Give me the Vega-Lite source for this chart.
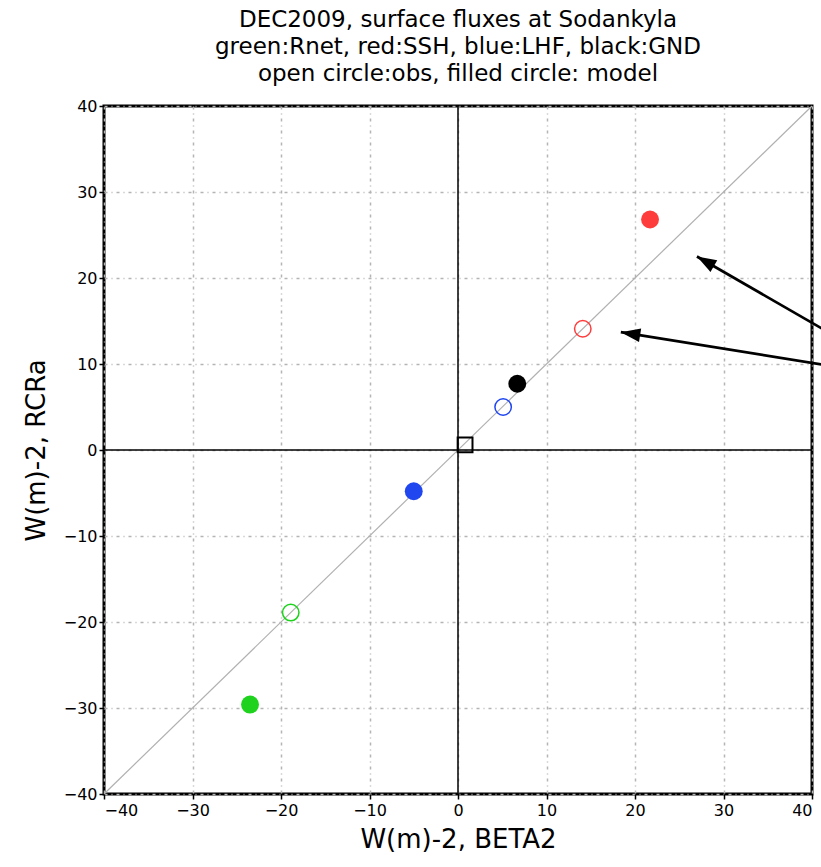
{
  "$schema": "https://vega.github.io/schema/vega-lite/v6.json",
  "width": 708,
  "height": 688,
  "autosize": {"type": "none"},
  "padding": {"left": 104, "top": 106, "right": 9, "bottom": 73},
  "background": "white",
  "config": {
    "view": {"stroke": "black", "strokeWidth": 3},
    "font": "DejaVu Sans"
  },
  "title": {
    "text": ["DEC2009, surface fluxes at Sodankyla", "green:Rnet, red:SSH, blue:LHF, black:GND", "open circle:obs, filled circle: model"],
    "font": "DejaVu Sans",
    "fontSize": 23,
    "fontWeight": "normal",
    "color": "black",
    "anchor": "middle",
    "lineHeight": 27,
    "offset": 12
  },
  "datasets": {
    "points": [
      {"variable": "Rnet", "type": "obs", "x": -18.9, "y": -18.9},
      {"variable": "Rnet", "type": "model", "x": -23.5, "y": -29.6},
      {"variable": "SSH", "type": "obs", "x": 14.1, "y": 14.1},
      {"variable": "SSH", "type": "model", "x": 21.7, "y": 26.8},
      {"variable": "LHF", "type": "obs", "x": 5.1, "y": 5.0},
      {"variable": "LHF", "type": "model", "x": -5.0, "y": -4.8},
      {"variable": "GND", "type": "obs", "x": 0.8, "y": 0.6},
      {"variable": "GND", "type": "model", "x": 6.7, "y": 7.7}
    ],
    "diag": [{"x": -40, "y": -40, "x2": 40, "y2": 40}],
    "zeroV": [{"x": 0, "y": -40, "y2": 40}],
    "zeroH": [{"y": 0, "x": -40, "x2": 40}],
    "arrows": [
      {"id": "a1", "x": 42, "y": 13.6, "x2": 27.0, "y2": 22.5},
      {"id": "a2", "x": 42, "y": 9.8, "x2": 18.4, "y2": 13.7}
    ]
  },
  "encoding": {
    "x": {
      "field": "x", "type": "quantitative",
      "scale": {"domain": [-40, 40], "nice": false, "zero": false},
      "axis": {
        "values": [-40, -30, -20, -10, 0, 10, 20, 30, 40],
        "title": "W(m)-2, BETA2",
        "titleFontSize": 26, "titleFontWeight": "normal", "titleColor": "black", "titlePadding": 8,
        "labelFontSize": 16, "labelColor": "black", "labelPadding": 3,
        "tickColor": "black", "tickSize": 5, "tickWidth": 1.5,
        "domain": false,
        "grid": true, "gridColor": "#b4b4b4", "gridDash": [3, 4, 1, 4], "gridWidth": 1.5
      }
    },
    "y": {
      "field": "y", "type": "quantitative",
      "scale": {"domain": [-40, 40], "nice": false, "zero": false},
      "axis": {
        "values": [-40, -30, -20, -10, 0, 10, 20, 30, 40],
        "title": "W(m)-2, RCRa",
        "titleFontSize": 26, "titleFontWeight": "normal", "titleColor": "black", "titlePadding": 14,
        "labelFontSize": 16, "labelColor": "black", "labelPadding": 2,
        "tickColor": "black", "tickSize": 5, "tickWidth": 1.5,
        "domain": false,
        "grid": true, "gridColor": "#b4b4b4", "gridDash": [3, 4, 1, 4], "gridWidth": 1.5
      }
    }
  },
  "layer": [
    {
      "data": {"name": "diag"},
      "mark": {"type": "rule", "color": "#b0b0b0", "strokeWidth": 1.2},
      "encoding": {"x2": {"field": "x2"}, "y2": {"field": "y2"}}
    },
    {
      "data": {"name": "zeroV"},
      "mark": {"type": "rule", "color": "black", "strokeWidth": 1.5},
      "encoding": {"y2": {"field": "y2"}}
    },
    {
      "data": {"name": "zeroH"},
      "mark": {"type": "rule", "color": "black", "strokeWidth": 1.5},
      "encoding": {"x2": {"field": "x2"}}
    },
    {
      "data": {"name": "points"},
      "transform": [{"filter": "datum.type === 'model'"}],
      "mark": {"type": "point", "shape": "circle", "filled": true, "size": 320, "opacity": 1},
      "encoding": {
        "color": {"field": "variable", "type": "nominal", "scale": {"domain": ["Rnet", "SSH", "LHF", "GND"], "range": ["#1ed21e", "#ff3c3c", "#2046f0", "#000000"]}, "legend": null}
      }
    },
    {
      "data": {"name": "points"},
      "transform": [{"filter": "datum.type === 'obs' && datum.variable !== 'GND'"}],
      "mark": {"type": "point", "shape": "circle", "filled": false, "size": 270, "strokeWidth": 1.5, "opacity": 1},
      "encoding": {
        "color": {"field": "variable", "type": "nominal", "scale": {"domain": ["Rnet", "SSH", "LHF", "GND"], "range": ["#1ed21e", "#ff3c3c", "#2046f0", "#000000"]}, "legend": null}
      }
    },
    {
      "data": {"name": "points"},
      "transform": [{"filter": "datum.type === 'obs' && datum.variable === 'GND'"}],
      "mark": {"type": "point", "shape": "square", "filled": false, "size": 220, "strokeWidth": 2, "opacity": 1, "color": "black"}
    },
    {
      "data": {"name": "arrows"},
      "mark": {"type": "rule", "color": "black", "strokeWidth": 2.7, "clip": false},
      "encoding": {"x2": {"field": "x2"}, "y2": {"field": "y2"}}
    },
    {
      "data": {"name": "arrows"},
      "transform": [{"filter": "datum.id === 'a1'"}],
      "mark": {"type": "point", "shape": "M0,0L-0.7,2L0.7,2Z", "filled": true, "size": 380, "angle": 299.8, "color": "black", "opacity": 1},
      "encoding": {"x": {"field": "x2", "type": "quantitative"}, "y": {"field": "y2", "type": "quantitative"}}
    },
    {
      "data": {"name": "arrows"},
      "transform": [{"filter": "datum.id === 'a2'"}],
      "mark": {"type": "point", "shape": "M0,0L-0.7,2L0.7,2Z", "filled": true, "size": 380, "angle": 279, "color": "black", "opacity": 1},
      "encoding": {"x": {"field": "x2", "type": "quantitative"}, "y": {"field": "y2", "type": "quantitative"}}
    }
  ]
}
